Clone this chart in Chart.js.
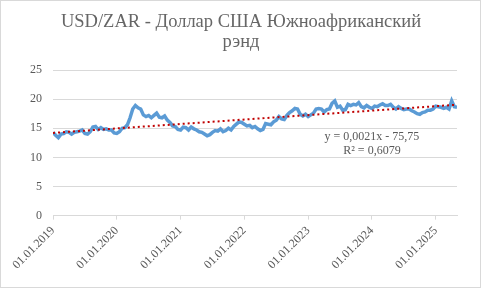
<!DOCTYPE html>
<html>
<head>
<meta charset="utf-8">
<script src="https://cdn.jsdelivr.net/npm/chart.js@4/dist/chart.umd.min.js"></script>
<style>
  html, body { margin: 0; padding: 0; background: #fff; }
  #wrap { position: relative; width: 482px; height: 289px; }
  #frame {
    position: absolute; left: 0; top: 0; width: 481px; height: 288px;
    box-sizing: border-box; border: 1px solid #d9d9d9; pointer-events: none;
  }
</style>
</head>
<body>
<div id="wrap">
  <canvas id="chart" width="482" height="289"></canvas>
  <div id="frame"></div>
</div>
<script>
// ── USD/ZAR, two readings per month (1st and 15th) ──
const rates2019 = [14.3, 13.8, 13.4, 14.0, 14.1, 14.4, 14.3, 14.0, 14.3, 14.4, 14.5, 14.7,
                   14.1, 14.0, 14.4, 15.2, 15.3, 14.8, 15.1, 14.8, 14.9, 14.7, 14.7, 14.2];
const rates2020 = [14.1, 14.4, 15.0, 15.1, 15.6, 16.8, 18.3, 18.9, 18.5, 18.3, 17.3, 17.0,
                   17.2, 16.8, 17.2, 17.6, 16.9, 16.8, 17.1, 16.4, 16.0, 15.4, 15.3, 14.8];
const rates2021 = [14.7, 15.2, 15.1, 14.7, 15.2, 14.9, 14.7, 14.4, 14.3, 14.0, 13.7, 13.9,
                   14.3, 14.6, 14.5, 14.9, 14.4, 14.6, 15.0, 14.7, 15.3, 15.7, 16.1, 16.0];
const rates2022 = [15.7, 15.4, 15.5, 15.1, 15.3, 14.9, 14.6, 14.8, 15.8, 15.7, 15.6, 16.1,
                   16.4, 17.0, 16.6, 16.5, 17.2, 17.7, 18.0, 18.4, 18.3, 17.4, 17.1, 17.4];
const rates2023 = [17.0, 17.3, 17.6, 18.3, 18.4, 18.3, 17.8, 18.2, 18.3, 19.3, 19.7, 18.6,
                   18.8, 18.1, 18.2, 19.1, 18.9, 19.1, 19.0, 19.4, 18.7, 18.5, 18.9, 18.6];
const rates2024 = [18.4, 18.8, 18.7, 19.0, 19.2, 18.9, 18.9, 19.1, 18.6, 18.3, 18.7, 18.4,
                   18.2, 18.3, 18.3, 18.0, 17.8, 17.5, 17.4, 17.7, 17.8, 18.1, 18.1, 18.3];
const rates2025 = [18.8, 18.7, 18.6, 18.4, 18.6, 18.3, 19.7, 18.7, 18.6]; // last one = 01.05.2025

const years = [2019, 2020, 2021, 2022, 2023, 2024, 2025];
const yTicks = [0, 5, 10, 15, 20, 25];
const titleLines = ['USD/ZAR - Доллар США Южноафриканский', 'рэнд'];
const trendText = ['y = 0,0021x - 75,75', 'R² = 0,6079'];

// x as fractional year: k-th half-month of the year
const points = [];
[rates2019, rates2020, rates2021, rates2022, rates2023, rates2024, rates2025].forEach((arr, i) => {
  arr.forEach((v, k) => points.push({ x: years[i] + k / 24, y: v }));
});

// least squares trend over the same points (what Excel draws)
function linearFit(pts) {
  const n = pts.length;
  let sx = 0, sy = 0, sxx = 0, sxy = 0;
  pts.forEach(p => { sx += p.x; sy += p.y; sxx += p.x * p.x; sxy += p.x * p.y; });
  const b = (n * sxy - sx * sy) / (n * sxx - sx * sx);
  const a = (sy - b * sx) / n;
  return x => a + b * x;
}
const fit = linearFit(points);
const xFirst = points[0].x;
const xLast = points[points.length - 1].x;
const trend = [{ x: xFirst, y: fit(xFirst) }, { x: xLast, y: fit(xLast) }];

const FONT = '"Liberation Serif", "Times New Roman", serif';
const GREY = '#595959';
const GRID = '#d9d9d9';

// title centred on the whole canvas, like Excel does
const canvasTitle = {
  id: 'canvasTitle',
  afterDraw(chart) {
    const { ctx, width } = chart;
    ctx.save();
    ctx.font = '18.5px ' + FONT;
    ctx.fillStyle = '#666666';
    ctx.textAlign = 'center';
    ctx.textBaseline = 'middle';
    ctx.fillText(titleLines[0], width / 2, 22);
    ctx.fillText(titleLines[1], width / 2, 42);
    ctx.restore();
  }
};

const trendLabel = {
  id: 'trendLabel',
  afterDatasetsDraw(chart) {
    const { ctx, scales } = chart;
    const cx = scales.x.getPixelForValue(2024.0);
    const cy = scales.y.getPixelForValue(13.5);
    ctx.save();
    ctx.font = '12px ' + FONT;
    ctx.fillStyle = GREY;
    ctx.textAlign = 'center';
    ctx.textBaseline = 'middle';
    ctx.fillText(trendText[0], cx, cy);
    ctx.fillText(trendText[1], cx, cy + 14);
    ctx.restore();
  }
};

new Chart(document.getElementById('chart'), {
  type: 'line',
  data: {
    datasets: [
      {
        label: 'trend',
        data: trend,
        borderColor: '#c00000',
        borderWidth: 2,
        borderDash: [2, 3],
        pointRadius: 0,
        order: 0
      },
      {
        label: 'USD/ZAR',
        data: points,
        borderColor: '#5b9bd5',
        borderWidth: 3.5,
        pointRadius: 0,
        tension: 0,
        order: 1
      }
    ]
  },
  options: {
    responsive: false,
    animation: false,
    events: [],
    layout: { padding: { left: 0, right: 25, top: 70, bottom: 13 } },
    plugins: {
      legend: { display: false },
      tooltip: { enabled: false },
      title: { display: false }
    },
    scales: {
      x: {
        type: 'linear',
        min: years[0],
        max: xLast,
        afterBuildTicks: s => { s.ticks = years.map(v => ({ value: v })); },
        grid: { display: true, drawOnChartArea: false, drawTicks: true, tickLength: 4, color: GRID },
        border: { display: true, color: GRID },
        ticks: {
          color: GREY,
          font: { family: FONT, size: 12 },
          minRotation: 45,
          maxRotation: 45,
          padding: 4,
          callback: v => '01.01.' + v
        }
      },
      y: {
        min: 0,
        max: 25,
        afterBuildTicks: s => { s.ticks = yTicks.map(v => ({ value: v })); },
        afterFit: s => { s.width = 53; },
        grid: { color: GRID, drawTicks: false },
        border: { display: false },
        ticks: {
          color: GREY,
          font: { family: FONT, size: 12 },
          padding: 11
        }
      }
    }
  },
  plugins: [trendLabel, canvasTitle]
});
</script>
</body>
</html>
